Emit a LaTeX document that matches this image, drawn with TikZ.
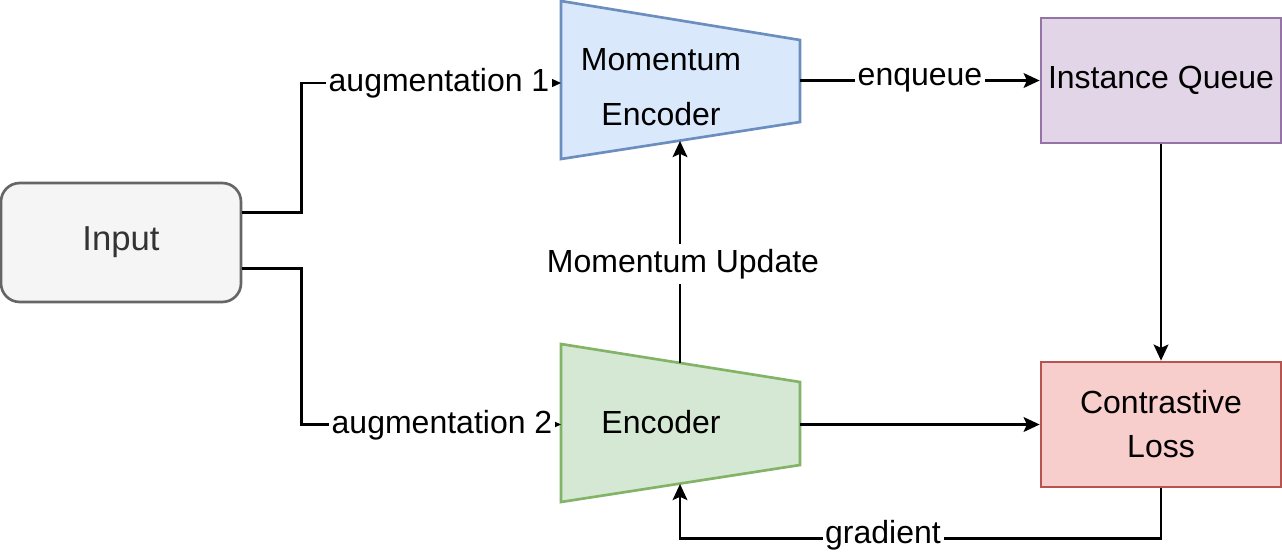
\documentclass[tikz,border=0pt]{standalone}
\usepackage{fontspec}
\setmainfont{Liberation Sans}
\usetikzlibrary{arrows.meta,calc}
\definecolor{inFill}{HTML}{F5F5F5}
\definecolor{inLine}{HTML}{666666}
\definecolor{inText}{HTML}{333333}
\definecolor{blFill}{HTML}{DAE8FC}
\definecolor{blLine}{HTML}{6C8EBF}
\definecolor{grFill}{HTML}{D5E8D4}
\definecolor{grLine}{HTML}{82B366}
\definecolor{puFill}{HTML}{E1D5E7}
\definecolor{puLine}{HTML}{9673A6}
\definecolor{rdFill}{HTML}{F8CECC}
\definecolor{rdLine}{HTML}{B85450}
\tikzset{
  box/.style={draw, line width=1pt, minimum width=90pt, minimum height=46.9pt, inner sep=0pt, align=center, font=\fontsize{12}{16.5}\selectfont},
  trap/.style={line width=1pt},
  conn/.style={draw=black, line width=1pt, -{Stealth[length=6pt,width=5.5pt,inset=1.2pt]}},
  plainconn/.style={draw=black, line width=1pt},
  elabel/.style={fill=white, inner xsep=1pt, inner ysep=0pt, minimum height=15pt, font=\fontsize{12}{14}\selectfont},
  ttext/.style={inner sep=0pt, align=center}
}
\begin{document}
\begin{tikzpicture}[x=0.375pt,y=-0.375pt]
\useasboundingbox (0,0) rectangle (1282,558);

% nodes
\node[box, fill=inFill, draw=inLine, text=inText, rounded corners=7pt, minimum height=44.6pt, font=\fontsize{13}{15}\selectfont] (in) at (121,242.5) {Input};
\node[box, fill=puFill, draw=puLine] (iq) at (1161,80.5) {Instance Queue};
\node[box, fill=rdFill, draw=rdLine] (cl) at (1161,424.5) {Contrastive\\Loss};

% momentum encoder (trapezoid)
\coordinate (mTL) at (561,1);
\coordinate (mTR) at (800,40);
\coordinate (mBR) at (800,122);
\coordinate (mBL) at (561,159);
\filldraw[trap, fill=blFill, draw=blLine] (mTL) -- (mTR) -- (mBR) -- (mBL) -- cycle;
\node[ttext, font=\fontsize{12}{20.6}\selectfont] (mencT) at (661,87) {Momentum\\Encoder};
\coordinate (mencL) at (561,83);
\coordinate (mencR) at (800,80.5);
\coordinate (mencB) at (680,141);

% encoder (trapezoid)
\coordinate (eTL) at (561,344);
\coordinate (eTR) at (800,382);
\coordinate (eBR) at (800,465);
\coordinate (eBL) at (561,502);
\filldraw[trap, fill=grFill, draw=grLine] (eTL) -- (eTR) -- (eBR) -- (eBL) -- cycle;
\node[ttext, font=\fontsize{12}{14}\selectfont] (encT) at (661,422) {Encoder};
\coordinate (encL) at (561,424.5);
\coordinate (encR) at (800,424.5);
\coordinate (encTop) at (680,363);
\coordinate (encBot) at (680,484);

% connectors
\draw[conn] ($(in.east)+(0,-30)$) -- ++(59,0) |- (mencL);
\draw[conn] ($(in.east)+(0,26)$) -- ++(59,0) |- (encL);
\draw[conn] (mencR) -- (iq.west);
\draw[conn] (encR) -- (cl.west);
\draw[conn] (iq.south) -- (cl.north);
\draw[conn] (encTop) -- (mencB);
\draw[conn] (cl.south) -- ++(0,50) -| (encBot);

% edge labels
\node[elabel] (l1) at (439,83) {augmentation 1};
\node[elabel] (l2) at (442,425) {augmentation 2};
\node[elabel] (l3) at (920,80) {enqueue};
\node[elabel] (l4) at (683,264) {Momentum Update};
\node[elabel] (l5) at (883,535) {gradient};
\end{tikzpicture}
\end{document}
